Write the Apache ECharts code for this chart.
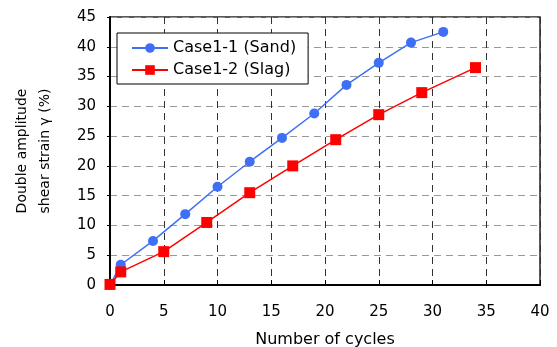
<!DOCTYPE html>
<html>
<head>
<meta charset="utf-8">
<script src="https://cdn.jsdelivr.net/npm/echarts@6/dist/echarts.min.js"></script>
<style>
  html, body { margin: 0; padding: 0; background: #fff; }
  #main { width: 557px; height: 347px; }
</style>
</head>
<body>
<div id="main"></div>
<script>
// 数据
var sandCycles = [0, 1, 4, 7, 10, 13, 16, 19, 22, 25, 28, 31];
var sandStrain = [0, 3.4, 7.4, 11.9, 16.5, 20.7, 24.7, 28.8, 33.6, 37.3, 40.7, 42.5];
var slagCycles = [0, 1, 5, 9, 13, 17, 21, 25, 29, 34];
var slagStrain = [0.1, 2.2, 5.6, 10.5, 15.5, 20.0, 24.4, 28.6, 32.3, 36.5];
var seriesNames = ['Case1-1 (Sand)', 'Case1-2 (Slag)'];

function pairs(xs, ys) {
    var out = [];
    for (var i = 0; i < xs.length; i++) {
        out.push([xs[i], ys[i]]);
    }
    return out;
}

var font = "'DejaVu Sans', sans-serif";
var myChart = echarts.init(document.getElementById('main'));

var option = {
    animation: false,
    textStyle: { fontFamily: font },
    grid: {
        left: 110, right: 17, top: 17, bottom: 62,
        containLabel: false, outerBoundsMode: 'none',
        show: true, borderColor: '#222', borderWidth: 1.5, backgroundColor: '#fff'
    },
    legend: {
        orient: 'vertical',
        left: 117,
        top: 33,
        data: seriesNames,
        backgroundColor: '#fff',
        borderColor: '#000',
        borderWidth: 1,
        borderRadius: 0,
        padding: [7, 12, 6, 14],
        itemGap: 6,
        itemWidth: 36,
        itemHeight: 12,
        textStyle: { fontSize: 16, color: '#000', fontFamily: font }
    },
    xAxis: {
        type: 'value',
        min: 0, max: 40, interval: 5,
        name: 'Number of cycles',
        nameLocation: 'middle',
        nameGap: 47,
        nameTextStyle: { fontSize: 16, color: '#000' },
        axisLine: { lineStyle: { color: '#000', width: 2 } },
        axisTick: { inside: true, length: 5, lineStyle: { color: '#000' } },
        axisLabel: { fontSize: 15, color: '#000', margin: 20 },
        splitLine: { show: true, lineStyle: { color: '#333', type: [7, 5], width: 1 } }
    },
    yAxis: {
        type: 'value',
        min: 0, max: 45, interval: 5,
        name: 'Double amplitude\nshear strain γ (%)',
        nameLocation: 'middle',
        nameGap: 53,
        nameRotate: 90,
        nameTextStyle: { fontSize: 14, color: '#000', lineHeight: 23 },
        axisLine: { show: true, lineStyle: { color: '#000', width: 2 } },
        axisTick: { show: true, length: 3, lineStyle: { color: '#000' } },
        axisLabel: { fontSize: 15, color: '#000', margin: 14 },
        splitLine: { show: true, lineStyle: { color: '#999', type: [7, 5], width: 1 } }
    },
    series: [{
        name: seriesNames[0],
        type: 'line',
        data: pairs(sandCycles, sandStrain),
        symbol: 'circle',
        symbolSize: 10,
        itemStyle: { color: '#3f6ff5' },
        lineStyle: { color: '#3f6ff5', width: 1.5 },
        z: 3
    }, {
        name: seriesNames[1],
        type: 'line',
        data: pairs(slagCycles, slagStrain),
        symbol: 'rect',
        symbolSize: 11,
        itemStyle: { color: '#ff0000' },
        lineStyle: { color: '#ff0000', width: 1.5 },
        z: 4
    }]
};
myChart.setOption(option);
</script>
</body>
</html>
